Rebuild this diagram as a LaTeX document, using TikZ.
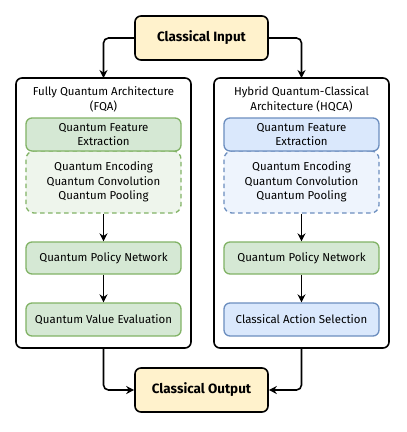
\documentclass[tikz,border=0pt]{standalone}
\usepackage{fontspec}
\setmainfont{Fira Sans}
\usetikzlibrary{arrows.meta,positioning}
\definecolor{ioyellow}{HTML}{FFF2CC}
\definecolor{qgreen}{HTML}{D5E8D4}
\definecolor{qgreenline}{HTML}{82B366}
\definecolor{qgreenlight}{HTML}{EEF5EC}
\definecolor{cblue}{HTML}{DAE8FC}
\definecolor{cblueline}{HTML}{6C8EBF}
\definecolor{cbluelight}{HTML}{EEF4FD}
\begin{document}
\begin{tikzpicture}[x=1bp,y=-1bp,font=\fontsize{11.5}{14.5}\selectfont,
    iobox/.style={draw,line width=1.6bp,rounded corners=6bp,fill=ioyellow,minimum width=133bp,minimum height=44bp,font=\fontsize{13.5}{15}\selectfont\bfseries},
    archbox/.style={draw,line width=1.6bp,rounded corners=6bp,fill=white},
    greenbox/.style={draw=qgreenline,line width=1.3bp,rounded corners=6bp,fill=qgreen,minimum width=155bp,minimum height=33bp,align=center},
    bluebox/.style={greenbox,draw=cblueline,fill=cblue},
    subgreen/.style={draw=qgreenline,dashed,dash pattern=on 4.5bp off 3.5bp,line width=1.3bp,rounded corners=8bp,fill=qgreenlight,minimum width=155bp,minimum height=62bp,align=center},
    subblue/.style={subgreen,draw=cblueline,fill=cbluelight},
    flow/.style={-{Stealth[length=8bp,width=8bp]},line width=1.6bp,rounded corners=5bp}]
\useasboundingbox (0,0) rectangle (407,432);
\node[iobox] (in) at (201.5,38) {Classical Input};
\node[iobox] (out) at (201.5,390) {Classical Output};

\draw[archbox] (16,78) rectangle (191,348);
\draw[archbox] (214,78) rectangle (389,348);
\coordinate (lbox) at (103.5,78);
\coordinate (rbox) at (301.5,78);
\coordinate (lboxs) at (103.5,348);
\coordinate (rboxs) at (301.5,348);
\node[align=center] (ltitle) at (103.5,99.5) {Fully Quantum Architecture\\(FQA)};
\node[align=center] (rtitle) at (301.5,99.5) {Hybrid Quantum-Classical\\Architecture (HQCA)};

% fully quantum
\node[subgreen] (lsub) at (103.5,182) {Quantum Encoding\\Quantum Convolution\\Quantum Pooling};
\node[greenbox] (lfe) at (103.5,134.5) {Quantum Feature\\Extraction};
\node[greenbox,minimum height=32bp] (lpn) at (103.5,258) {Quantum Policy Network};
\node[greenbox] (lve) at (103.5,319.5) {Quantum Value Evaluation};

% hybrid
\node[subblue] (rsub) at (301.5,182) {Quantum Encoding\\Quantum Convolution\\Quantum Pooling};
\node[bluebox] (rfe) at (301.5,134.5) {Quantum Feature\\Extraction};
\node[greenbox,minimum height=32bp] (rpn) at (301.5,258) {Quantum Policy Network};
\node[bluebox] (ras) at (301.5,319.5) {Classical Action Selection};

\draw[flow] (in.west) -| (lbox);
\draw[flow] (in.east) -| (rbox);
\draw[flow] (lsub) -- (lpn);
\draw[flow] (lpn) -- (lve);
\draw[flow] (rsub) -- (rpn);
\draw[flow] (rpn) -- (ras);
\draw[flow] (lboxs) |- (out.west);
\draw[flow] (rboxs) |- (out.east);
\end{tikzpicture}
\end{document}
